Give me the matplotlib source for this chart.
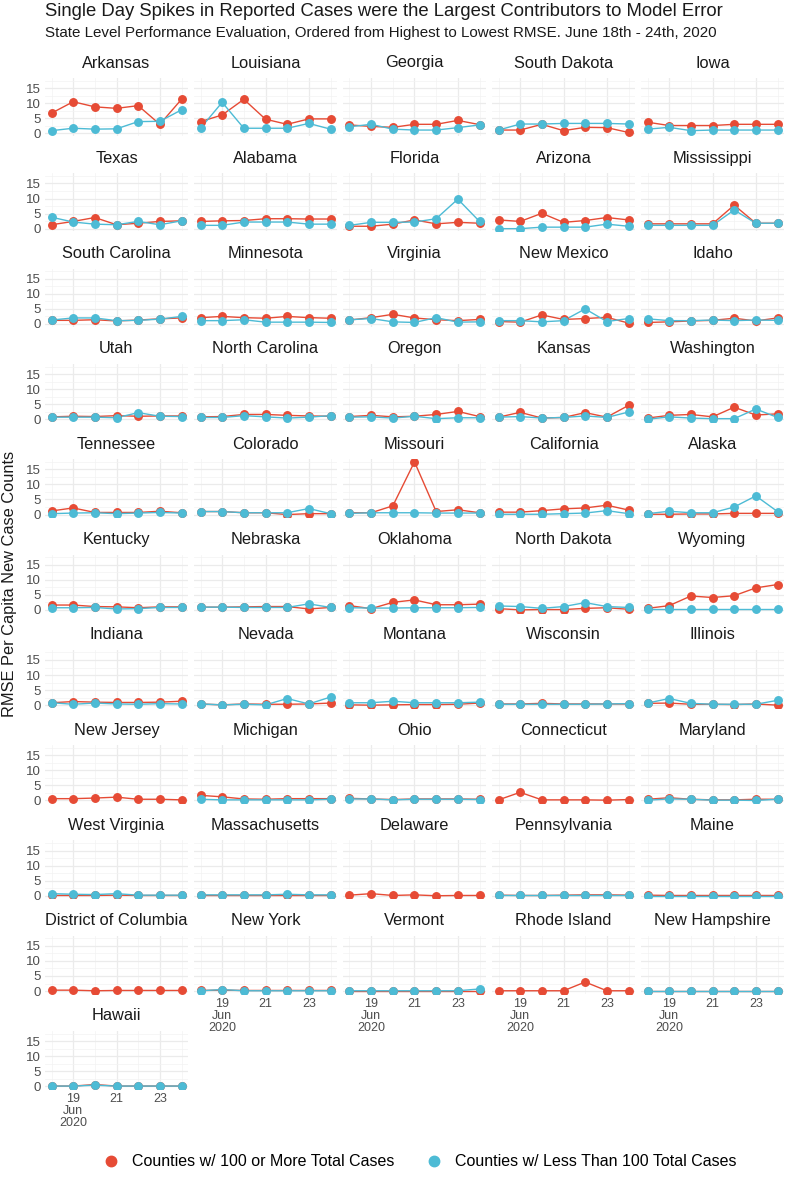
import numpy as np
import matplotlib
matplotlib.use("Agg")
import matplotlib.pyplot as plt
import matplotlib.dates as mdates
from matplotlib.ticker import FuncFormatter
from matplotlib.lines import Line2D

plt.rcParams['font.family'] = ['Liberation Sans', 'DejaVu Sans']

dates = ["2020-06-18", "2020-06-19", "2020-06-20", "2020-06-21",
         "2020-06-22", "2020-06-23", "2020-06-24"]

states = ["Arkansas", "Louisiana", "Georgia", "South Dakota", "Iowa",
          "Texas", "Alabama", "Florida", "Arizona", "Mississippi",
          "South Carolina", "Minnesota", "Virginia", "New Mexico", "Idaho",
          "Utah", "North Carolina", "Oregon", "Kansas", "Washington",
          "Tennessee", "Colorado", "Missouri", "California", "Alaska",
          "Kentucky", "Nebraska", "Oklahoma", "North Dakota", "Wyoming",
          "Indiana", "Nevada", "Montana", "Wisconsin", "Illinois",
          "New Jersey", "Michigan", "Ohio", "Connecticut", "Maryland",
          "West Virginia", "Massachusetts", "Delaware", "Pennsylvania", "Maine",
          "District of Columbia", "New York", "Vermont", "Rhode Island", "New Hampshire",
          "Hawaii"]

# RMSE for counties with 100 or more total cases
rmse_large = [
    [6.7, 10.5, 8.8, 8.3, 9.2, 3.0, 11.3],
    [3.9, 6.1, 11.3, 4.7, 3.0, 4.8, 4.8],
    [2.8, 2.3, 2.0, 3.0, 3.0, 4.3, 2.9],
    [1.1, 1.1, 3.0, 0.9, 2.0, 1.9, 0.3],
    [3.7, 2.6, 2.6, 2.6, 3.0, 3.0, 3.0],
    [1.3, 2.4, 3.7, 1.3, 1.8, 2.4, 2.6],
    [2.4, 2.6, 2.7, 3.3, 3.3, 3.2, 3.2],
    [0.8, 0.8, 1.5, 2.9, 1.6, 2.1, 1.8],
    [2.9, 2.4, 5.1, 2.1, 2.7, 3.7, 2.9],
    [1.6, 1.6, 1.6, 1.6, 7.8, 1.8, 1.8],
    [1.2, 1.2, 1.4, 1.0, 1.3, 1.7, 2.0],
    [2.1, 2.5, 2.1, 1.9, 2.5, 2.1, 1.9],
    [1.3, 2.1, 3.2, 2.0, 1.4, 1.1, 1.5],
    [0.8, 0.6, 3.0, 1.5, 1.8, 2.2, 0.3],
    [0.5, 0.7, 1.0, 1.2, 1.9, 1.0, 2.0],
    [0.8, 1.0, 0.9, 1.2, 1.0, 1.1, 1.1],
    [0.8, 0.9, 1.6, 1.6, 1.3, 1.1, 1.0],
    [0.9, 1.3, 0.8, 1.0, 1.6, 2.6, 0.9],
    [0.7, 2.3, 0.4, 0.6, 2.2, 0.7, 4.6],
    [0.4, 1.3, 1.6, 0.8, 4.0, 1.4, 1.8],
    [1.2, 2.2, 0.7, 0.7, 0.7, 1.1, 0.6],
    [1.0, 1.0, 0.6, 0.6, 0.0, 0.3, 0.3],
    [0.6, 0.6, 2.9, 17.5, 1.0, 1.6, 0.6],
    [0.8, 0.8, 1.3, 1.9, 2.2, 3.1, 1.5],
    [0.1, 0.1, 0.2, 0.2, 0.4, 0.4, 0.4],
    [1.6, 1.6, 1.1, 1.0, 0.7, 1.0, 1.0],
    [0.9, 0.9, 1.0, 1.1, 1.1, 0.3, 0.8],
    [1.4, 0.4, 2.5, 3.3, 1.7, 1.7, 1.9],
    [0.4, 0.0, 0.1, 0.1, 0.5, 0.7, 0.2],
    [0.5, 1.4, 4.6, 4.1, 4.7, 7.3, 8.4],
    [0.8, 1.2, 1.0, 0.9, 0.9, 1.0, 1.3],
    [0.4, 0.1, 0.4, 0.3, 0.3, 0.4, 0.7],
    [0.1, 0.0, 0.1, 0.2, 0.2, 0.3, 0.7],
    [0.4, 0.4, 0.6, 0.4, 0.4, 0.4, 0.4],
    [0.6, 0.7, 0.3, 0.3, 0.2, 0.4, 0.0],
    [0.6, 0.6, 0.8, 1.1, 0.4, 0.4, 0.2],
    [1.7, 1.2, 0.5, 0.4, 0.6, 0.6, 0.6],
    [0.7, 0.5, 0.3, 0.5, 0.5, 0.5, 0.4],
    [0.2, 2.7, 0.2, 0.2, 0.2, 0.1, 0.3],
    [0.4, 0.9, 0.4, 0.2, 0.2, 0.4, 0.4],
    [0.1, 0.1, 0.1, 0.2, 0.1, 0.1, 0.1],
    [0.1, 0.1, 0.1, 0.1, 0.1, 0.1, 0.1],
    [0.2, 0.7, 0.1, 0.3, 0.0, 0.1, 0.1],
    [0.2, 0.1, 0.1, 0.2, 0.3, 0.3, 0.2],
    [0.2, 0.1, 0.1, 0.1, 0.1, 0.1, 0.1],
    [0.3, 0.3, 0.1, 0.2, 0.2, 0.2, 0.2],
    [0.2, 0.3, 0.2, 0.2, 0.2, 0.2, 0.2],
    [0.1, 0.1, 0.1, 0.1, 0.1, 0.1, 0.1],
    [0.1, 0.1, 0.1, 0.1, 3.0, 0.1, 0.1],
    [0.1, 0.1, 0.1, 0.1, 0.1, 0.1, 0.1],
    [0.1, 0.1, 0.6, 0.1, 0.1, 0.1, 0.1],
]

# RMSE for counties with fewer than 100 total cases (None = no such counties)
rmse_small = [
    [0.9, 1.7, 1.4, 1.5, 3.9, 4.0, 7.8],
    [1.7, 10.3, 1.7, 1.7, 1.7, 3.3, 1.4],
    [2.2, 3.0, 1.4, 1.1, 1.1, 1.9, 2.8],
    [1.1, 3.1, 3.1, 3.3, 3.3, 3.3, 3.1],
    [1.4, 2.0, 0.9, 1.1, 1.1, 1.1, 1.1],
    [3.8, 2.2, 1.5, 1.3, 2.4, 1.3, 2.6],
    [1.1, 1.1, 2.2, 2.2, 2.2, 1.5, 1.5],
    [1.1, 2.1, 2.1, 2.2, 3.3, 9.8, 2.4],
    [0.0, 0.0, 0.5, 0.5, 0.5, 1.5, 0.8],
    [1.1, 1.1, 1.1, 1.1, 6.2, 1.8, 1.8],
    [1.3, 2.0, 2.0, 1.1, 1.2, 1.6, 2.5],
    [1.1, 1.1, 1.4, 0.6, 0.6, 0.6, 0.5],
    [1.4, 1.8, 0.7, 0.5, 2.1, 0.6, 0.7],
    [1.1, 1.1, 0.7, 1.1, 5.0, 0.8, 1.8],
    [1.7, 1.1, 1.1, 1.3, 1.1, 1.3, 1.2],
    [0.7, 0.7, 0.7, 0.5, 2.2, 1.0, 0.9],
    [0.6, 0.6, 1.2, 0.8, 0.4, 0.7, 1.2],
    [0.7, 0.8, 0.4, 1.0, 0.2, 0.5, 0.5],
    [0.7, 0.9, 0.4, 0.6, 1.1, 0.6, 2.4],
    [0.0, 0.8, 0.4, 0.2, 0.2, 3.4, 0.6],
    [0.3, 0.5, 0.6, 0.3, 0.5, 0.7, 0.5],
    [1.0, 1.0, 0.6, 0.6, 0.6, 2.0, 0.3],
    [0.4, 0.6, 0.6, 0.6, 0.5, 0.5, 0.5],
    [0.1, 0.1, 0.1, 0.3, 0.5, 1.3, 0.3],
    [0.3, 1.1, 0.6, 0.6, 2.5, 6.2, 1.0],
    [0.7, 0.7, 0.8, 0.3, 0.4, 0.8, 0.8],
    [0.9, 0.9, 0.8, 0.8, 0.8, 2.0, 0.8],
    [0.7, 0.6, 0.6, 0.7, 0.7, 0.7, 0.8],
    [1.3, 1.1, 0.5, 1.1, 2.4, 1.1, 0.8],
    [0.3, 0.3, 0.3, 0.3, 0.3, 0.3, 0.3],
    [0.8, 0.3, 0.7, 0.4, 0.3, 0.5, 0.4],
    [0.4, 0.1, 0.3, 0.1, 2.2, 0.4, 2.7],
    [0.8, 0.8, 1.3, 0.8, 0.8, 0.8, 1.0],
    [0.3, 0.3, 0.3, 0.3, 0.3, 0.4, 0.5],
    [0.7, 2.2, 0.6, 0.3, 0.3, 0.3, 1.6],
    None,
    [0.4, 0.2, 0.2, 0.2, 0.2, 0.2, 0.4],
    [0.5, 0.5, 0.2, 0.4, 0.4, 0.4, 0.3],
    None,
    [0.1, 0.5, 0.4, 0.1, 0.1, 0.0, 0.4],
    [0.7, 0.5, 0.4, 0.7, 0.2, 0.2, 0.2],
    [0.3, 0.3, 0.3, 0.3, 0.5, 0.3, 0.3],
    None,
    [0.1, 0.1, 0.1, 0.1, 0.1, 0.1, 0.1],
    [0.0, 0.0, 0.0, 0.0, 0.0, 0.0, 0.0],
    None,
    [0.1, 0.5, 0.1, 0.1, 0.1, 0.1, 0.1],
    [0.1, 0.1, 0.1, 0.1, 0.1, 0.1, 0.7],
    None,
    [0.1, 0.1, 0.1, 0.1, 0.1, 0.1, 0.1],
    [0.1, 0.1, 0.4, 0.1, 0.1, 0.1, 0.1],
]

series_labels = ["Counties w/ 100 or More Total Cases",
                 "Counties w/ Less Than 100 Total Cases"]
series_colors = ["#E64B35", "#4DBBD5"]

title = "Single Day Spikes in Reported Cases were the Largest Contributors to Model Error"
subtitle = "State Level Performance Evaluation, Ordered from Highest to Lowest RMSE. June 18th - 24th, 2020"
ylabel = "RMSE Per Capita New Case Counts"

# ---------------------------------------------------------------- layout
W, H = 790, 1178
fig = plt.figure(figsize=(W / 100, H / 100), dpi=100)


def rect(x, y, w, h):
    return [x / W, 1 - (y + h) / H, w / W, h / H]


ncol = 5
nrow = int(np.ceil(len(states) / ncol))
col_x0, col_step, pan_w = 45, 149, 143
row_y0, row_step, pan_h = 78, 95.3, 58

x = np.array(dates, dtype="datetime64[D]")
span = (x[-1] - x[0]).astype(float)
xlo = mdates.date2num(x[0]) - 0.05 * span
xhi = mdates.date2num(x[-1]) + 0.05 * span
allv = [v for s in rmse_large for v in s] + [v for s in rmse_small if s for v in s]
vmin, vmax = min(allv), max(allv)
ylo = vmin - 0.05 * (vmax - vmin)
yhi = vmax + 0.05 * (vmax - vmin)

grid_c = "#EBEBEB"
tick_c = "#4D4D4D"


def xfmt(val, pos):
    d = mdates.num2date(val)
    if pos == 0:
        return f"{d.day}\n{d.strftime('%b')}\n{d.year}"
    return f"{d.day}"


n = len(states)
for i, st in enumerate(states):
    r, c = divmod(i, ncol)
    ax = fig.add_axes(rect(col_x0 + c * col_step, row_y0 + r * row_step, pan_w, pan_h))
    for sp in ax.spines.values():
        sp.set_visible(False)
    ax.set_xlim(xlo, xhi)
    ax.set_ylim(ylo, yhi)
    ax.set_yticks([0, 5, 10, 15])
    ax.set_yticks([2.5, 7.5, 12.5, 17.5], minor=True)
    ax.xaxis.set_major_locator(mdates.DayLocator(bymonthday=[19, 21, 23]))
    ax.xaxis.set_minor_locator(mdates.DayLocator(bymonthday=[18, 20, 22, 24]))
    ax.xaxis.set_major_formatter(FuncFormatter(xfmt))
    ax.grid(which="major", color=grid_c, lw=0.9)
    ax.grid(which="minor", color="#F3F3F3", lw=0.5)
    ax.set_axisbelow(True)
    ax.tick_params(which="both", length=0, labelsize=9.5, colors=tick_c, pad=3)
    # x labels only on the bottom panel of each column
    show_x = (i + ncol) >= n
    if not show_x:
        ax.tick_params(axis="x", labelbottom=False)
    else:
        ax.tick_params(axis="x", labelsize=9)
        for lab in ax.get_xticklabels():
            lab.set_linespacing(1.0)
    if c != 0:
        ax.tick_params(axis="y", labelleft=False)

    series = [rmse_large[i], rmse_small[i]]
    for vals, col in zip(series, series_colors):
        if vals is not None:
            ax.plot(x, vals, color=col, lw=1.0, zorder=2)
    for vals, col in zip(series, series_colors):
        if vals is not None:
            ax.plot(x, vals, ls="none", marker="o", ms=5.4, color=col,
                    mec=col, zorder=3)

    fig.text((col_x0 + c * col_step + pan_w / 2) / W,
             1 - (row_y0 + r * row_step - 15) / H, st,
             ha="center", va="center", fontsize=11.8, color="#1A1A1A")

fig.text(45 / W, 1 - 12 / H, title, ha="left", va="center", fontsize=13.3, color="#1A1A1A")
fig.text(45 / W, 1 - 33 / H, subtitle, ha="left", va="center", fontsize=10.9, color="#1A1A1A")
fig.text(10 / W, 1 - (row_y0 + (nrow - 1) * row_step + pan_h + row_y0) / 2 / H, ylabel,
         rotation=90, ha="center", va="center", fontsize=11.8, color="#1A1A1A")

handles = [Line2D([], [], ls="none", marker="o", ms=7.5, color=c) for c in series_colors]
fig.legend(handles, series_labels, loc="center", ncol=2, frameon=False,
           bbox_to_anchor=(416 / W, 1 - 1162 / H), fontsize=11.5,
           handletextpad=0.3, columnspacing=1.5)

fig.savefig("out.png", dpi=100, facecolor="white")
